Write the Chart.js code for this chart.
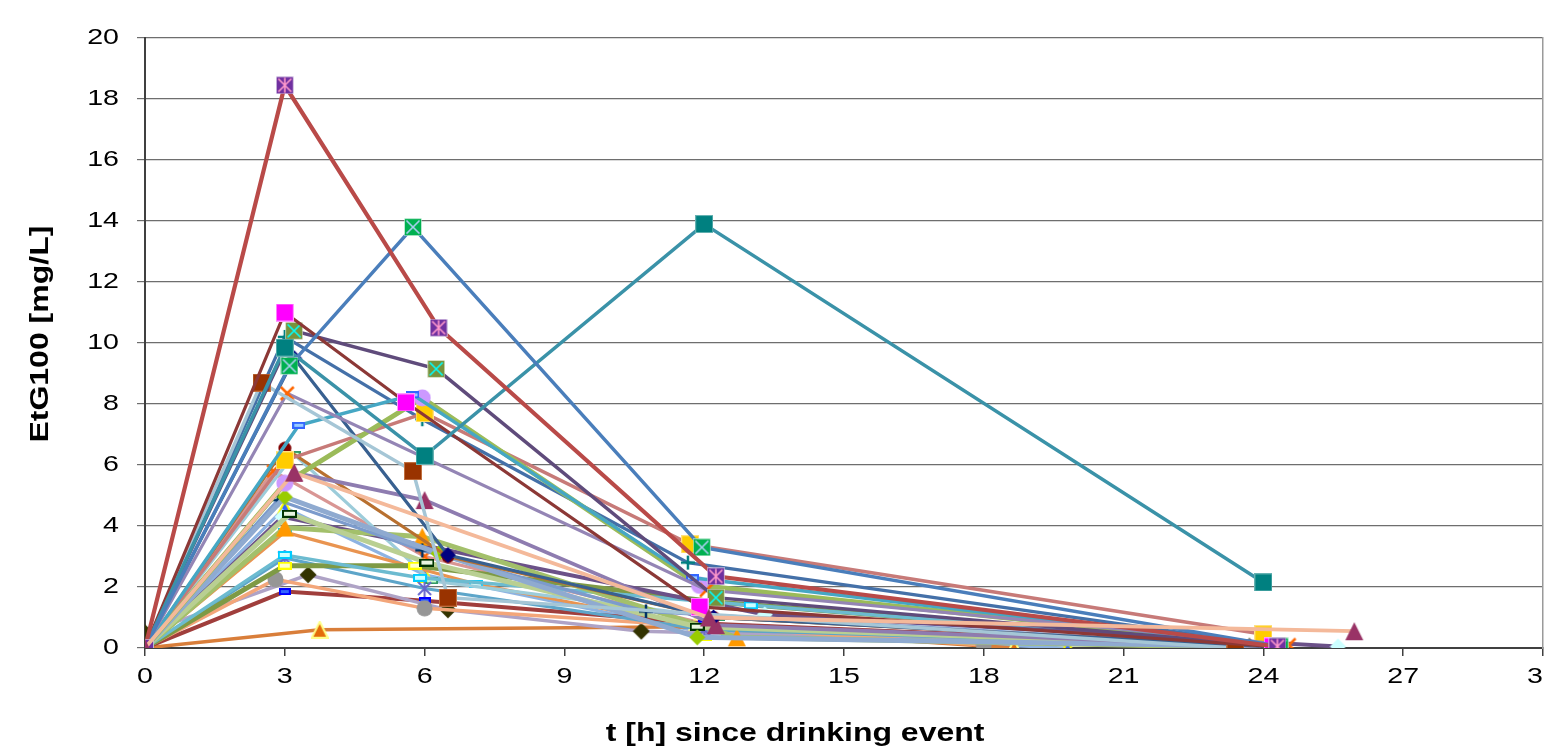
<!DOCTYPE html>
<html><head><meta charset="utf-8">
<script src="https://cdn.jsdelivr.net/npm/chart.js@4/dist/chart.umd.min.js"></script>
<style>html,body{margin:0;padding:0;background:#fff;overflow:hidden;width:1544px;height:751px}canvas{display:block}</style>
</head><body>
<canvas id="c" width="1557" height="751"></canvas>
<script>
// ---- data: [hours, EtG100 mg/L] per subject ----
const s01=[[0,0],[3,18.45],[6.3,10.5],[12.25,2.35],[24.3,0.05]];
const s02=[[0,0],[3.1,9.25],[5.75,13.8],[11.95,3.3],[24.35,0.05]];
const s03=[[0,0],[3,9.85],[6,6.3],[12,13.9],[24,2.15]];
const s04=[[0,0],[3,11.0],[5.6,8.05],[11.9,1.35],[24.2,0.05]];
const s05=[[0,0],[3.2,10.4],[6.25,9.15],[12.25,1.65],[24.3,0.05]];
const s06=[[0,0],[2.5,8.7],[5.75,5.8],[6.5,1.65],[23.4,0]];
const s07=[[0,0],[3.05,8.35],[12.05,1.9],[24.55,0.1]];
const s08=[[0,0],[3.3,7.3],[5.75,8.3],[11.75,2.3],[24.2,0.05]];
const s09=[[0,0],[3,5.4],[5.95,8.2],[11.9,2.05],[24.3,0.05]];
const s10=[[0,0],[3,6.15],[6,7.7],[11.7,3.4],[24,0.45]];
const s11=[[0,0],[3,10.2],[5.95,7.5],[11.65,2.8],[24.1,0.1]];
const s12=[[0,0],[3.2,9.5],[6.5,3.05],[12.2,1.0],[24.1,0.05]];
const s13=[[0,0],[3.2,5.75],[12.1,1.0],[25.95,0.55]];
const s14=[[0,0],[3.2,5.75],[6,4.85],[12.25,0.75],[24.2,0.05]];
const s15=[[0,0],[3,6.55],[6.5,3.0],[12.2,1.0],[24,0.05]];
const s16=[[0,0],[3,4.95],[6.3,3.1],[11.85,0.35],[24.2,0.05]];
const s17=[[0,0],[2.85,4.85],[5.95,3.2],[10.75,1.2],[24,0.05]];
const s18=[[0,0],[3.1,4.4],[6.05,2.8],[11.85,0.7],[24.1,0.05]];
const s19=[[0,0],[3,3.95],[5.95,3.65],[12.7,0.35],[24.2,0]];
const s20=[[0,0],[2.95,4.3],[13.3,1.1],[25.6,0.05]];
const s21=[[0,0],[3,3.05],[5.9,2.3],[13,1.4],[24.3,0.05]];
const s22=[[0,0],[3,2.7],[5.8,2.7],[12.3,1.5],[24.3,0.05]];
const s23=[[0,0],[3,2.95],[6,1.95],[12,0.6],[24.2,0.05]];
const s24=[[0,0],[2.8,2.25],[6,1.3],[18,0.1]];
const s25=[[0,0.5],[3.5,2.4],[6.5,1.25],[10.65,0.55],[23.7,0.05]];
const s26=[[0,0],[3,1.85],[6,1.55],[12,0.8],[24,0.05]];
const s27=[[0,0],[3.75,0.6],[11.8,0.7],[18.65,0]];
const s28=[[0,0],[3.2,6.35],[6.15,2.2],[12.3,1.0],[24,0.05]];
const s29=[[0,0],[2.75,5.8],[6,3.0],[12,0.8],[24,0.05]];
const s30=[[0,0],[3,3.8],[7.1,2.1],[12.5,0.5],[23.0,0]];
const s31=[[0,0],[3,4.6],[6,2.4],[12,0.5],[19.8,0]];
const xTicks=[0,3,6,9,12,15,18,21,24,27,30];
const yTicks=[0,2,4,6,8,10,12,14,16,18,20];
const xTitle='t [h] since drinking event';
const yTitle='EtG100 [mg/L]';

// ---- styles ----
function mk(type, fill, stroke, s){
  const c=document.createElement('canvas');
  const w=s, h=(type==='dash')?Math.round(s*0.55):s;
  c.width=w; c.height=h;
  const g=c.getContext('2d'); const m=w/2;
  g.lineWidth=1;
  if(type==='sq'||type==='sqX'||type==='sqS'){
    g.fillStyle=fill; g.fillRect(0.5,0.5,w-1,h-1);
    g.strokeStyle=(type==='sq')?stroke:'rgba(255,255,255,0.45)'; g.strokeRect(0.5,0.5,w-1,h-1);
    if(type!=='sq'){
      g.strokeStyle=stroke; g.lineWidth=1.6; g.beginPath();
      g.moveTo(2.5,2.5);g.lineTo(w-2.5,h-2.5);g.moveTo(w-2.5,2.5);g.lineTo(2.5,h-2.5);
      if(type==='sqS'){g.moveTo(m,1.5);g.lineTo(m,h-1.5);}
      g.stroke();
    }
  } else if(type==='tri'){
    g.fillStyle=fill; g.beginPath(); g.moveTo(m,1); g.lineTo(w-1,h-1); g.lineTo(1,h-1); g.closePath(); g.fill();
    if(stroke){g.strokeStyle=stroke; g.lineWidth=2; g.stroke();}
  } else if(type==='circ'){
    g.fillStyle=fill; g.beginPath(); g.arc(m,m,m-0.5,0,Math.PI*2); g.fill();
  } else if(type==='dia'){
    g.fillStyle=fill; g.beginPath(); g.moveTo(m,0.5); g.lineTo(w-0.5,m); g.lineTo(m,h-0.5); g.lineTo(0.5,m); g.closePath(); g.fill();
  } else if(type==='dash'){
    g.fillStyle=stroke||'#fff'; g.fillRect(0,0,w,h);
    g.strokeStyle=fill; g.lineWidth=2; g.strokeRect(1,1,w-2,h-2);
  } else if(type==='plus'){
    g.strokeStyle=fill; g.lineWidth=2.5; g.beginPath(); g.moveTo(m,1); g.lineTo(m,h-1); g.moveTo(1,m); g.lineTo(w-1,m); g.stroke();
  } else if(type==='x'){
    g.strokeStyle=fill; g.lineWidth=2.5; g.beginPath(); g.moveTo(2,2); g.lineTo(w-2,h-2); g.moveTo(w-2,2); g.lineTo(2,h-2); g.stroke();
  } else if(type==='ast'){
    g.strokeStyle=fill; g.lineWidth=2; g.beginPath(); g.moveTo(2,2); g.lineTo(w-2,h-2); g.moveTo(w-2,2); g.lineTo(2,h-2); g.moveTo(m,0); g.lineTo(m,h); g.stroke();
  }
  return c;
}
const series=[
 [s01,'#B94A48',4.2,mk('sqS','#7030A0','#FF99CC',18)],
 [s02,'#4A7EBB',3.5,mk('sqX','#00B050','#A9D0F0',18)],
 [s03,'#3A92A8',3.5,mk('sq','#008080','#66B2B2',18)],
 [s04,'#8C3836',3.2,mk('sq','#FF00FF','#FF99FF',18)],
 [s05,'#5F4B7B',3.5,mk('sqX','#77933C','#00FFFF',18)],
 [s06,'#A5C6D6',3.5,mk('sq','#993300','#C07040',18)],
 [s07,'#9485B5',3.2,mk('x','#FF6600',null,17)],
 [s08,'#45A7C4',3.5,mk('dash','#3366FF','#99CCFF',13)],
 [s09,'#9BBB59',5,mk('circ','#CC99FF',null,18)],
 [s10,'#C77A78',3.5,mk('sq','#FFCC00','#FFE080',18)],
 [s11,'#4470A8',3.2,mk('plus','#008080',null,16)],
 [s12,'#386090',3.2,mk('dia','#000080',null,17)],
 [s13,'#F4B99A',3.8,mk('tri','#993366',null,20)],
 [s14,'#8E7CB0',3.8,mk('tri','#993366',null,20)],
 [s15,'#B8702F',3.2,mk('circ','#800000',null,14)],
 [s16,'#8FAAD0',5,mk('dia','#99CC00',null,17)],
 [s17,'#7C9BCC',3.2,mk('plus','#003366',null,16)],
 [s18,'#B9CF92',5,mk('dash','#003300','#E8F5E0',15)],
 [s19,'#A3C06B',5,mk('tri','#FF9900',null,20)],
 [s20,'#6B5188',4,mk('dia','#CCFFFF',null,17)],
 [s21,'#6CBBD0',3.5,mk('dash','#00CCFF','#CCFFFF',14)],
 [s22,'#7E9A45',5,mk('dash','#FFFF00','#FFFFCC',14)],
 [s23,'#5DA5C9',3.2,mk('ast','#6666CC',null,17)],
 [s24,'#F3A67A',3.5,mk('circ','#969696',null,17)],
 [s25,'#AFA3C6',3.5,mk('dia','#333300',null,18)],
 [s26,'#A03E3C',4,mk('dash','#0000FF','#3366FF',12)],
 [s27,'#D97E3A',3.5,mk('tri','#E46C0A','#FFFF88',18)],
 [s28,'#9CCCDA',3.2,mk('dash','#339966','#CCFFCC',13)],
 [s29,'#D99694',3.2,mk('x','#FF6600',null,16)],
 [s30,'#E99450',3.2,mk('dash','#00CCFF','#E0FFFF',14)],
 [s31,'#8DB3E2',3.2,mk('tri','#3366FF','#FFFF00',16)]
];
const topOrder={12:-1};

// the original's lettering is widened along the reading direction
const canvas=document.getElementById('c');
const ctx=canvas.getContext('2d');
const SXN=1.3, SXB=1.28;
const origFill=ctx.fillText;
ctx.fillText=function(t,x,y,mw){
  const sx=/bold/.test(this.font)?SXB:SXN;
  this.save();
  this.translate(x,y); this.scale(sx,1);
  origFill.call(this,t,0,0,mw);
  this.restore();
};

const FONT='"Liberation Sans", Arial, sans-serif';
new Chart(ctx,{
  type:'line',
  data:{datasets:series.map(([d,col,w,pt],i)=>({
    label:'S'+(i+1),
    data:d.map(([x,y])=>({x,y})),
    borderColor:col, backgroundColor:col, borderWidth:w,
    pointStyle:pt, pointRadius:9, pointHoverRadius:9, tension:0, fill:false,
    order: topOrder[i]!==undefined?topOrder[i]:0
  }))},
  options:{
    responsive:false, animation:false, devicePixelRatio:1, events:[],
    layout:{padding:{top:38,left:0,right:0,bottom:0}},
    plugins:{legend:{display:false},tooltip:{enabled:false}},
    scales:{
      x:{type:'linear',min:0,max:30,
        afterBuildTicks:s=>{s.ticks=xTicks.map(v=>({value:v}));},
        afterFit:s=>{s.paddingLeft=0;s.paddingRight=0;s.height=103;},
        ticks:{font:{family:FONT,size:22},color:'#000',padding:8,maxRotation:0,autoSkip:false},
        grid:{drawOnChartArea:false,drawTicks:true,tickLength:8,color:'#404040',lineWidth:1.5},
        border:{color:'#404040',width:2},
        title:{display:true,text:xTitle+'\u00A0'.repeat(11),font:{family:FONT,size:25,weight:'bold'},color:'#000',padding:{top:0,bottom:2}}
      },
      y:{min:0,max:20,
        afterBuildTicks:s=>{s.ticks=yTicks.map(v=>({value:v}));},
        afterFit:s=>{s.width=145;s.paddingTop=0;s.paddingBottom=0;},
        ticks:{font:{family:FONT,size:22},color:'#000',padding:18},
        grid:{color:'#6e6e6e',lineWidth:1.2,tickLength:8},
        border:{color:'#404040',width:2},
        title:{display:true,text:'\u00A0\u00A0'+yTitle,font:{family:FONT,size:25,weight:'bold'},color:'#000',padding:{top:26,bottom:0}}
      },
      y2:{position:'right',min:0,max:20,
        afterFit:s=>{s.width=3;s.paddingTop=0;s.paddingBottom=0;},
        ticks:{display:false},grid:{drawOnChartArea:false,drawTicks:false},
        border:{color:'#9a9a9a',width:1.5}
      }
    }
  }
});
</script>
</body></html>
